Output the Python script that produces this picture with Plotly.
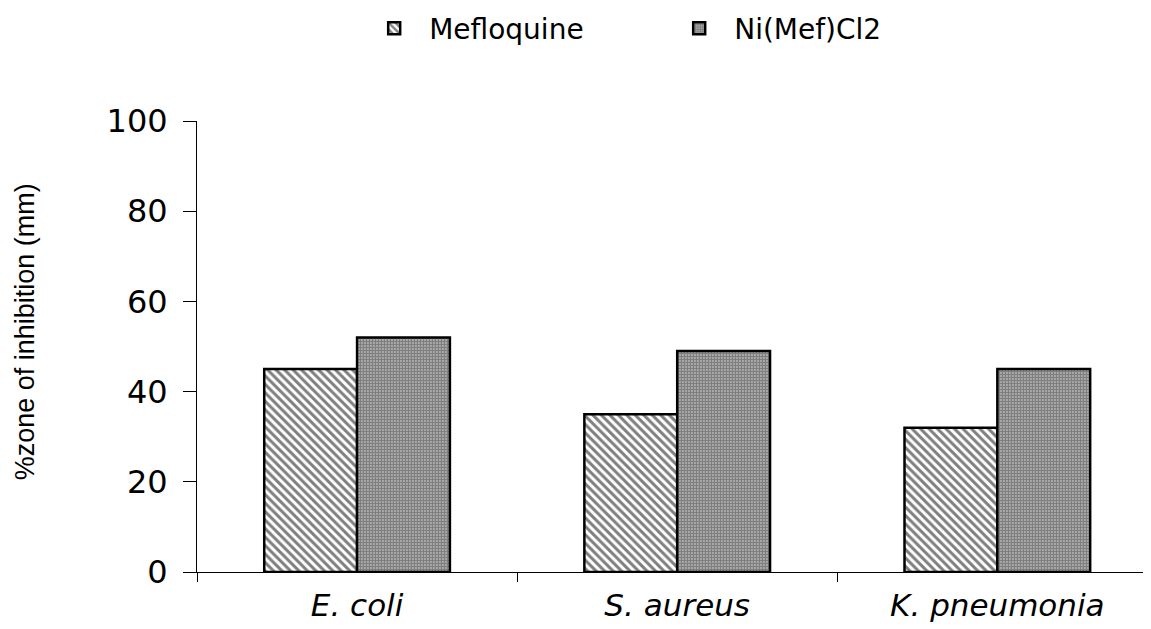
import plotly.graph_objects as go

categories = ["E. coli", "S. aureus", "K. pneumonia"]
mefloquine = [45, 35, 32]
ni_mef_cl2 = [52, 49, 45]
y_ticks = [0, 20, 40, 60, 80, 100]
y_title = "%zone of inhibition (mm)"

FONT = "DejaVu Sans, Liberation Sans, Arial, sans-serif"
TITLE_FONT = "Liberation Sans, Arial, sans-serif"

fig = go.Figure()
fig.add_trace(go.Bar(
    x=categories, y=mefloquine, name="Mefloquine",
    marker=dict(color="white", line=dict(color="black", width=2.5),
                pattern=dict(shape="\\", size=6, solidity=0.5, fgcolor="black", bgcolor="white")),
))
fig.add_trace(go.Bar(
    x=categories, y=ni_mef_cl2, name="Ni(Mef)Cl2",
    marker=dict(color="white", line=dict(color="black", width=2.5),
                pattern=dict(shape=".", size=3, solidity=0.8, fgcolor="black", bgcolor="white")),
))

fig.update_layout(
    width=1143, height=621,
    margin=dict(l=189, r=0, t=113, b=57, autoexpand=False),
    paper_bgcolor="white", plot_bgcolor="white",
    barmode="group", bargap=0.42, bargroupgap=0,
    font=dict(family=FONT, color="black"),
    showlegend=True,
    legend=dict(orientation="h", x=0.17, xanchor="left", y=1.205, yanchor="middle",
                font=dict(size=28, family=FONT), itemwidth=60,
                entrywidth=230, entrywidthmode="pixels", bgcolor="rgba(0,0,0,0)"),
    xaxis=dict(
        type="category", range=[-0.5, 2.48], automargin=False,
        showline=True, linecolor="black", linewidth=1,
        ticks="outside", tickson="boundaries", ticklen=9, tickcolor="black", tickwidth=1,
        tickfont=dict(size=31, family=FONT, style="italic"), ticklabelstandoff=6,
        showgrid=False, zeroline=False,
    ),
    yaxis=dict(
        range=[0, 100], tickvals=y_ticks, automargin=False,
        showline=True, linecolor="black", linewidth=1,
        ticks="outside", ticklen=13, tickcolor="black", tickwidth=1,
        tickfont=dict(size=32, family=FONT), ticklabelstandoff=9,
        showgrid=False, zeroline=False,
    ),
    annotations=[dict(
        text=y_title, textangle=-90, showarrow=False,
        xref="paper", yref="paper", x=-0.18, y=0.532,
        xanchor="center", yanchor="middle",
        font=dict(size=27, family=TITLE_FONT, color="black"),
    )],
)

fig.write_html("out.html")
